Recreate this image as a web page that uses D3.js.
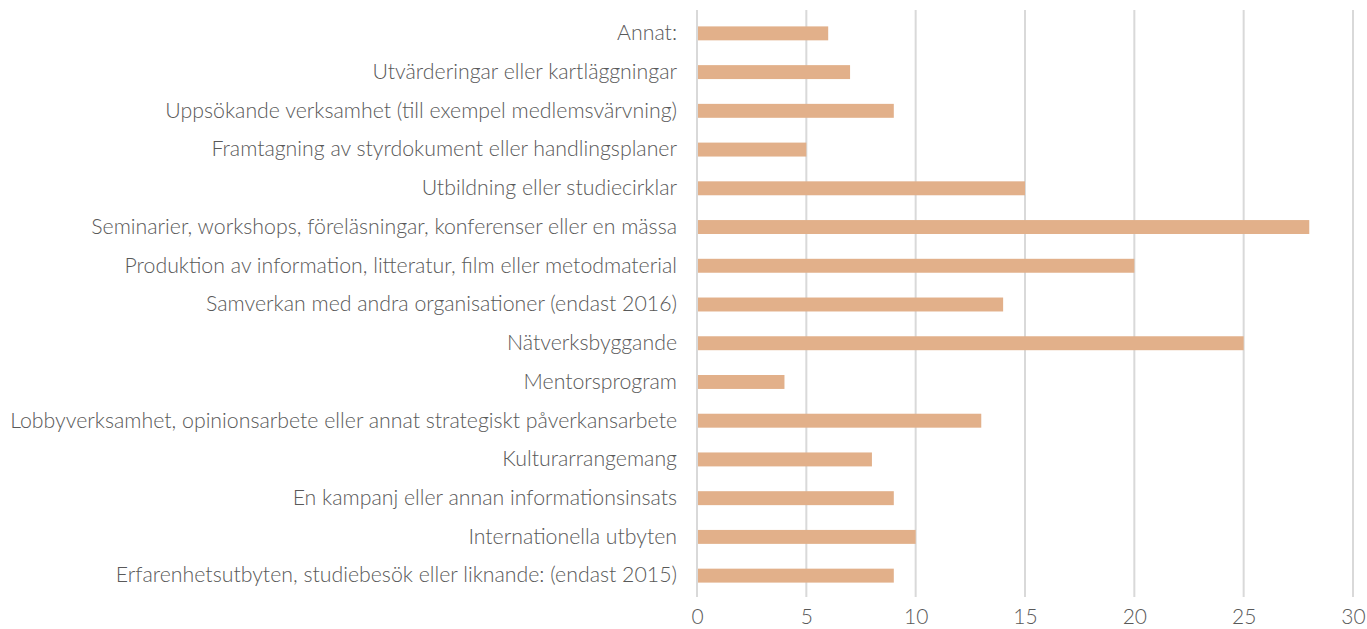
<!DOCTYPE html>
<html lang="en">
<head>
<meta charset="UTF-8">
<title>Aktiviteter</title>
<script src="https://cdn.jsdelivr.net/npm/d3@7"></script>
<style>
  body { margin: 0; background: #fff; }
  text { font-family: Lato, "Open Sans", sans-serif; font-weight: 300; fill: #595959; }
</style>
</head>
<body>
<svg width="1367" height="629"></svg>
<script>
// categories top to bottom
var categories = [
  "Annat:",
  "Utvärderingar eller kartläggningar",
  "Uppsökande verksamhet (till exempel medlemsvärvning)",
  "Framtagning av styrdokument eller handlingsplaner",
  "Utbildning eller studiecirklar",
  "Seminarier, workshops, föreläsningar, konferenser eller en mässa",
  "Produktion av information, litteratur, film eller metodmaterial",
  "Samverkan med andra organisationer (endast 2016)",
  "Nätverksbyggande",
  "Mentorsprogram",
  "Lobbyverksamhet, opinionsarbete eller annat strategiskt påverkansarbete",
  "Kulturarrangemang",
  "En kampanj eller annan informationsinsats",
  "Internationella utbyten",
  "Erfarenhetsutbyten, studiebesök eller liknande: (endast 2015)"
];
var values = [6, 7, 9, 5, 15, 28, 20, 14, 25, 4, 13, 8, 9, 10, 9];
var xTicks = [0, 5, 10, 15, 20, 25, 30];

var svg = d3.select("svg");
var mLeft = 697, mRight = 1353, mTop = 14, mBottom = 595;

var x = d3.scaleLinear().domain([0, 30]).range([mLeft, mRight]);
var y = d3.scaleBand().domain(categories).range([mTop, mBottom]).paddingInner(0.64).paddingOuter(0.32);

// gridlines
svg.append("g").selectAll("line")
  .data(xTicks)
  .join("line")
  .attr("x1", d => x(d)).attr("x2", d => x(d))
  .attr("y1", 10).attr("y2", 597)
  .attr("stroke", "#d9d9d9")
  .attr("stroke-width", 2);

// bars
svg.append("g").selectAll("rect")
  .data(values)
  .join("rect")
  .attr("x", x(0) + 1)
  .attr("y", (d, i) => y(categories[i]))
  .attr("height", y.bandwidth())
  .attr("width", d => x(d) - x(0) - 1)
  .attr("fill", "#e2b08a");

// category labels
var yAxis = svg.append("g")
  .attr("transform", "translate(" + (mLeft - 2) + ",0)")
  .call(d3.axisLeft(y).tickSize(0).tickPadding(18));
yAxis.select(".domain").remove();
yAxis.selectAll("text").style("font-size", "21.3px").style("fill", "#595959").style("font-family", null);

// x axis labels
var xAxis = svg.append("g")
  .attr("transform", "translate(0,606)")
  .call(d3.axisBottom(x).tickValues(xTicks).tickSize(0).tickPadding(3));
xAxis.select(".domain").remove();
xAxis.selectAll("text").style("font-size", "21px").style("fill", "#595959").style("font-family", null);
</script>
</body>
</html>
